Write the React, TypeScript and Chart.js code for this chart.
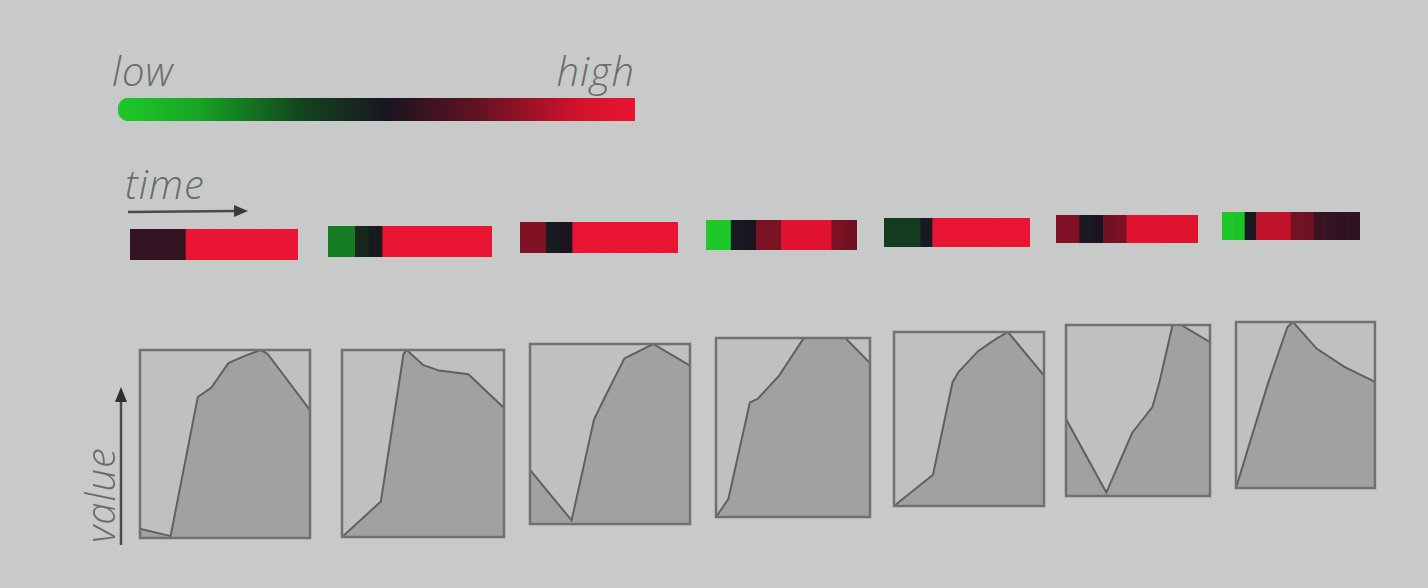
import { useEffect, useRef } from "react";
import { Chart, registerables, type ChartConfiguration, type Plugin } from "chart.js";

Chart.register(...registerables);

// Colour scale: low -> high
const scaleStops = [0, 0.15, 0.35, 0.52, 0.7, 0.9, 1];
const scaleColors: [number, number, number][] = [
  [30, 200, 40],
  [22, 168, 36],
  [18, 70, 30],
  [26, 20, 32],
  [100, 18, 34],
  [215, 18, 44],
  [232, 20, 50],
];

// Heat strips above each panel (one value per time cell, 0 = low, 1 = high)
const strip1 = [0.58, 0.58, 0.58, 0.58, 1, 1, 1, 1, 1, 1, 1, 1];
const strip2 = [0.24, 0.24, 0.45, 0.5, 1, 1, 1, 1, 1, 1, 1, 1];
const strip3 = [0.75, 0.75, 0.5, 0.52, 1, 1, 1, 1, 1, 1, 1, 1];
const strip4 = [0.0, 0.0, 0.5, 0.52, 0.74, 0.74, 0.96, 0.96, 0.96, 0.96, 0.74, 0.72];
const strip5 = [0.38, 0.38, 0.38, 0.5, 1, 1, 1, 1, 1, 1, 1, 1];
const strip6 = [0.75, 0.75, 0.5, 0.52, 0.72, 0.74, 0.96, 0.96, 0.96, 0.94, 0.94, 0.94];
const strip7 = [0.0, 0.02, 0.5, 0.86, 0.86, 0.86, 0.72, 0.72, 0.6, 0.58, 0.57, 0.57];
const strips = [strip1, strip2, strip3, strip4, strip5, strip6, strip7];

// Small area charts: time (0..1) and value (0..1)
const time1 = [0, 0.18, 0.34, 0.42, 0.52, 0.62, 0.71, 0.75, 1];
const value1 = [0.05, 0.01, 0.75, 0.8, 0.93, 0.97, 1.0, 0.98, 0.68];
const time2 = [0, 0.24, 0.38, 0.4, 0.5, 0.6, 0.78, 1];
const value2 = [0.0, 0.19, 0.98, 1.0, 0.92, 0.89, 0.87, 0.69];
const time3 = [0, 0.26, 0.4, 0.46, 0.59, 0.77, 1];
const value3 = [0.3, 0.02, 0.58, 0.69, 0.92, 1.0, 0.88];
const time4 = [0, 0.08, 0.22, 0.27, 0.41, 0.57, 0.84, 1];
const value4 = [0.0, 0.1, 0.64, 0.66, 0.79, 1.0, 1.0, 0.86];
const time5 = [0, 0.26, 0.39, 0.43, 0.56, 0.68, 0.76, 1];
const value5 = [0.0, 0.18, 0.71, 0.77, 0.89, 0.96, 1.0, 0.75];
const time6 = [0, 0.28, 0.46, 0.6, 0.65, 0.74, 0.8, 1];
const value6 = [0.45, 0.02, 0.37, 0.52, 0.67, 1.0, 1.0, 0.9];
const time7 = [0, 0.23, 0.37, 0.41, 0.58, 0.78, 1];
const value7 = [0.0, 0.63, 0.97, 1.0, 0.84, 0.73, 0.64];
const times = [time1, time2, time3, time4, time5, time6, time7];
const values = [value1, value2, value3, value4, value5, value6, value7];

// panel boxes [left, top, width, height] (photo is slightly in perspective)
const stripBoxes = [
  [130, 229, 168, 31],
  [328, 226, 164, 31],
  [520, 222, 158, 31],
  [706, 220, 151, 30],
  [884, 218, 146, 29],
  [1056, 215, 142, 28],
  [1222, 212, 138, 28],
];
const chartBoxes = [
  [140, 350, 170, 188],
  [342, 350, 162, 187],
  [530, 344, 160, 180],
  [716, 338, 154, 179],
  [894, 332, 150, 174],
  [1066, 325, 144, 171],
  [1236, 322, 139, 166],
];

const rgb = (c: number[]) => `rgb(${c.map(Math.round).join(",")})`;

function colorAt(v: number): string {
  for (let i = 1; i < scaleStops.length; i++) {
    if (v <= scaleStops[i]) {
      const t = (v - scaleStops[i - 1]) / (scaleStops[i] - scaleStops[i - 1]);
      const a = scaleColors[i - 1];
      const b = scaleColors[i];
      return rgb(a.map((x, k) => x + (b[k] - x) * t));
    }
  }
  return rgb(scaleColors[scaleColors.length - 1]);
}

const textStyle: React.CSSProperties = {
  position: "absolute",
  fontFamily: "'Open Sans', 'DejaVu Sans', sans-serif",
  fontStyle: "italic",
  fontWeight: 300,
  fontSize: 40,
  letterSpacing: 1,
  color: "#6a6c6b",
  lineHeight: 1,
  whiteSpace: "nowrap",
};

function useChart(config: () => ChartConfiguration<any>) {
  const ref = useRef<HTMLCanvasElement | null>(null);
  useEffect(() => {
    if (!ref.current) return;
    const chart = new Chart(ref.current, config());
    return () => chart.destroy();
  }, []);
  return ref;
}

const GradientBar: React.FC = () => {
  const ref = useChart(() => ({
    type: "bar",
    data: {
      labels: ["scale"],
      datasets: [
        {
          data: [1],
          backgroundColor: (ctx: any) => {
            const { chartArea, ctx: c } = ctx.chart;
            if (!chartArea) return "#000";
            const g = c.createLinearGradient(chartArea.left, 0, chartArea.right, 0);
            scaleStops.forEach((s, i) => g.addColorStop(s, rgb(scaleColors[i])));
            return g;
          },
          borderRadius: { topLeft: 11, bottomLeft: 11, topRight: 1, bottomRight: 1 },
          borderSkipped: false,
          barPercentage: 1,
          categoryPercentage: 1,
        },
      ],
    },
    options: {
      indexAxis: "y",
      animation: false,
      responsive: true,
      maintainAspectRatio: false,
      layout: { padding: 0 },
      scales: {
        x: { display: false, min: 0, max: 1 },
        y: { display: false },
      },
      plugins: { legend: { display: false }, tooltip: { enabled: false } },
    },
  }));
  return <canvas ref={ref} />;
};

const Strip: React.FC<{ cells: number[] }> = ({ cells }) => {
  const ref = useChart(() => ({
    type: "bar",
    data: {
      labels: cells.map((_, i) => i),
      datasets: [
        {
          data: cells.map(() => 1),
          backgroundColor: cells.map(colorAt),
          borderWidth: 0,
          barPercentage: 1,
          categoryPercentage: 1,
        },
      ],
    },
    options: {
      animation: false,
      responsive: true,
      maintainAspectRatio: false,
      layout: { padding: 0 },
      scales: {
        x: { display: false },
        y: { display: false, min: 0, max: 1 },
      },
      plugins: { legend: { display: false }, tooltip: { enabled: false } },
    },
  }));
  return <canvas ref={ref} />;
};

const framePlugin: Plugin = {
  id: "frame",
  beforeDatasetsDraw(chart) {
    const { ctx, chartArea: a } = chart;
    ctx.save();
    ctx.fillStyle = "#bfc1c0";
    ctx.fillRect(a.left, a.top, a.right - a.left, a.bottom - a.top);
    ctx.restore();
  },
  afterDraw(chart) {
    const { ctx, chartArea: a } = chart;
    ctx.save();
    ctx.strokeStyle = "#6f7271";
    ctx.lineWidth = 2.5;
    ctx.strokeRect(a.left, a.top, a.right - a.left, a.bottom - a.top);
    ctx.restore();
  },
};

const AreaPanel: React.FC<{ t: number[]; v: number[] }> = ({ t, v }) => {
  const ref = useChart(() => ({
    type: "line",
    data: {
      datasets: [
        {
          data: t.map((x, i) => ({ x, y: v[i] })),
          fill: "origin",
          backgroundColor: "#a0a2a1",
          borderColor: "#5e6160",
          borderWidth: 2,
          pointRadius: 0,
          tension: 0,
        },
      ],
    },
    options: {
      animation: false,
      responsive: true,
      maintainAspectRatio: false,
      layout: { padding: 2 },
      scales: {
        x: { type: "linear", display: false, min: 0, max: 1 },
        y: { display: false, min: 0, max: 1 },
      },
      plugins: { legend: { display: false }, tooltip: { enabled: false } },
    },
    plugins: [framePlugin],
  }));
  return <canvas ref={ref} />;
};

const box = (b: number[], pad = 0): React.CSSProperties => ({
  position: "absolute",
  left: b[0] - pad,
  top: b[1] - pad,
  width: b[2] + pad * 2,
  height: b[3] + pad * 2,
});

export default function App() {
  return (
    <div
      style={{
        position: "fixed",
        left: 0,
        top: 0,
        width: 1428,
        height: 588,
        background: "#c8cac9",
        overflow: "hidden",
      }}
    >
      <div style={{ ...textStyle, left: 112, top: 51 }}>low</div>
      <div style={{ ...textStyle, right: 1428 - 635, top: 51 }}>high</div>
      <div style={box([118, 98, 517, 23])}>
        <GradientBar />
      </div>

      <div style={{ ...textStyle, left: 125, top: 164 }}>time</div>
      <svg style={{ position: "absolute", left: 0, top: 0 }} width={1428} height={588}>
        <line x1={128} y1={212} x2={236} y2={211} stroke="#4a4c4b" strokeWidth={2.5} />
        <polygon points="248,211 234,205 234,217" fill="#3a3c3b" />
        <line x1={121} y1={545} x2={121} y2={400} stroke="#4a4c4b" strokeWidth={2.5} />
        <polygon points="121,387 115,402 127,402" fill="#2e302f" />
      </svg>
      <div
        style={{
          ...textStyle,
          left: 80,
          top: 543,
          transform: "rotate(-90deg)",
          transformOrigin: "left top",
        }}
      >
        value
      </div>

      {strips.map((s, i) => (
        <div key={"s" + i} style={box(stripBoxes[i])}>
          <Strip cells={s} />
        </div>
      ))}
      {times.map((t, i) => (
        <div key={"c" + i} style={box(chartBoxes[i], 2)}>
          <AreaPanel t={t} v={values[i]} />
        </div>
      ))}
    </div>
  );
}
